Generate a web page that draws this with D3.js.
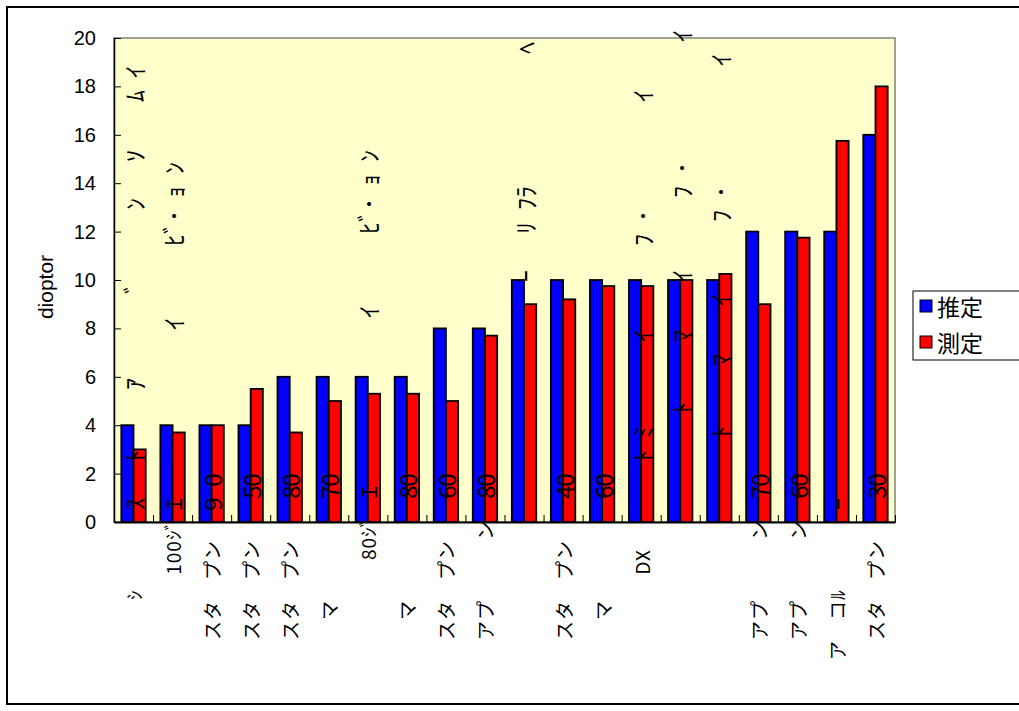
<!DOCTYPE html>
<html><head><meta charset="utf-8">
<script src="https://cdn.jsdelivr.net/npm/d3@7/dist/d3.min.js"></script>
<style>
body{margin:0;background:#fff}
svg{display:block}
text.pre{white-space:pre}
</style>
</head><body>
<svg id="c" width="1019" height="711"></svg>
<script>
// ---- data ----
const categories = ["1","2","3","4","5","6","7","8","9","10","11","12","13","14","15","16","17","18","19","20"];
const seriesNames = ["推定", "測定"];
const estimated = [4, 4, 4, 4, 6, 6, 6, 6, 8, 8, 10, 10, 10, 10, 10, 10, 12, 12, 12, 16];
const measured  = [3, 3.7, 4, 5.5, 3.7, 5, 5.3, 5.3, 5, 7.7, 9, 9.2, 9.75, 9.75, 10, 10.25, 9, 11.75, 15.75, 18];
const yTicks = [0, 2, 4, 6, 8, 10, 12, 14, 16, 18, 20];
const yTitle = "dioptor";
// category labels as they appear (garbled): below the axis
const axisLabels = [
  "　　　ｼ",
  "　　　　 100ｼﾞ",
  "　スタ　プン",
  "　スタ　プン",
  "　スタ　プン",
  "　　マ",
  "　　　　　80ｼﾞ",
  "　　マ",
  "　スタ　プン",
  "　アプ　　　ン",
  "",
  "　スタ　プン",
  "　　マ",
  "　　　　 DX",
  "",
  "",
  "　アプ　　　ン",
  "　アプ　　　ン",
  "ア　コﾙ",
  "　スタ　プン"
];
// overflowing label fragments inside the plot ("_" = empty cell)
const innerLabels = [
  "_ｽ___ﾄ_____ｱ_______ﾞ______ﾝ___ｿ____ﾑ_ｲ",
  "_ｴ______________ｲ______ﾋﾞ･_ｮ_ﾝ",
  "_9_0",
  "__50",
  "__80",
  "__70",
  "__ｴ______________ｲ______ﾋﾞ･_ｮ_ﾝ",
  "__80",
  "__60",
  "__80",
  "____________________ｰ___ﾘ_ﾌﾗ___________ﾍ",
  "__40",
  "__60",
  "_____ﾄ_ﾐ_______ｲ_______ﾌ_･_________ｲ",
  "_________ﾄ_____ﾏ____ｲ______ﾌ_･__________ｲ",
  "_______ﾄ_____ﾏ____ｲ______ﾌ_･__________ｲ",
  "__70",
  "__60",
  "_ｰ",
  "__30"
];
const colors = ["#0000FF", "#FF0000"];

// ---- layout ----
const svg = d3.select("#c");
const L = 114, R = 895, T = 38, B = 522;
const jp = "'Noto Sans CJK JP', sans-serif";
const lat = "'Liberation Sans', Arial, sans-serif";

svg.append("rect").attr("x", 7).attr("y", 7).attr("width", 1040).attr("height", 697)
  .attr("fill", "#fff").attr("stroke", "#000").attr("stroke-width", 2);

const x = d3.scaleBand().domain(categories).range([L, R]).paddingInner(0.375).paddingOuter(0.1875);
const xs = d3.scaleBand().domain([0, 1]).range([0, x.bandwidth()]);
const y = d3.scaleLinear().domain([0, 20]).range([B, T]);
const xl = d3.scaleLinear().domain([0, categories.length]).range([L, R]);

svg.append("rect").attr("x", L).attr("y", T).attr("width", R - L).attr("height", B - T)
  .attr("fill", "#FFFFCC").attr("stroke", "#808080").attr("stroke-width", 1.5);

// bars
const series = [estimated, measured];
series.forEach((vals, s) => {
  svg.append("g").selectAll("rect").data(vals).join("rect")
    .attr("x", (d, i) => x(categories[i]) + xs(s))
    .attr("y", d => y(d))
    .attr("width", xs.bandwidth())
    .attr("height", d => y(0) - y(d))
    .attr("fill", colors[s]).attr("stroke", "#000").attr("stroke-width", 1.8);
});

// axes
const gy = svg.append("g").attr("transform", `translate(${L},0)`)
  .call(d3.axisLeft(y).tickValues(yTicks).tickSize(-7).tickSizeOuter(0).tickPadding(18));
gy.select(".domain").attr("stroke", "#000").attr("stroke-width", 1.5);
gy.selectAll(".tick line").attr("stroke", "#000");
gy.selectAll(".tick text").attr("font-family", lat).attr("font-size", 20).attr("fill", "#000");

const gx = svg.append("g").attr("transform", `translate(0,${B})`)
  .call(d3.axisBottom(xl).tickValues(d3.range(categories.length + 1)).tickSize(-7).tickSizeOuter(0).tickFormat(""));
gx.select(".domain").attr("stroke", "#000").attr("stroke-width", 2);
gx.selectAll(".tick line").attr("stroke", "#000");

svg.append("text").attr("transform", `translate(53,${(T + B) / 2 + 7}) rotate(-90)`)
  .attr("text-anchor", "middle").attr("font-family", lat).attr("font-size", 21).text(yTitle);

// in-plot label fragments
categories.forEach((c, i) => {
  const cx = x(c) + x.bandwidth() / 2;
  Array.from(innerLabels[i]).forEach((ch, j) => {
    if (ch === "_") return;
    svg.append("text")
      .attr("transform", `translate(${cx},${B - 6 - 12 * j}) rotate(-90)`)
      .attr("text-anchor", "middle").attr("dominant-baseline", "central")
      .attr("font-family", jp).attr("font-size", 24).attr("fill", "#000").text(ch);
  });
});

// below-axis labels
svg.append("g").selectAll("text").data(axisLabels).join("text")
  .attr("class", "pre")
  .attr("transform", (d, i) => `translate(${x(categories[i]) + x.bandwidth() / 2},660) rotate(-90)`)
  .attr("text-anchor", "start").attr("dominant-baseline", "central")
  .attr("letter-spacing", 1)
  .attr("font-family", jp).attr("font-size", 19).attr("fill", "#000")
  .text(d => d);

// legend
const lg = svg.append("g");
lg.append("rect").attr("x", 913).attr("y", 291).attr("width", 140).attr("height", 69)
  .attr("fill", "#fff").attr("stroke", "#000").attr("stroke-width", 1);
seriesNames.forEach((n, k) => {
  lg.append("rect").attr("x", 920).attr("y", 300 + k * 36).attr("width", 12).attr("height", 12)
    .attr("fill", colors[k]).attr("stroke", "#000").attr("stroke-width", 1);
  lg.append("text").attr("x", 937).attr("y", 306 + k * 36).attr("dominant-baseline", "central")
    .attr("font-family", jp).attr("font-size", 23).attr("fill", "#000").text(n);
});
</script>
</body></html>
